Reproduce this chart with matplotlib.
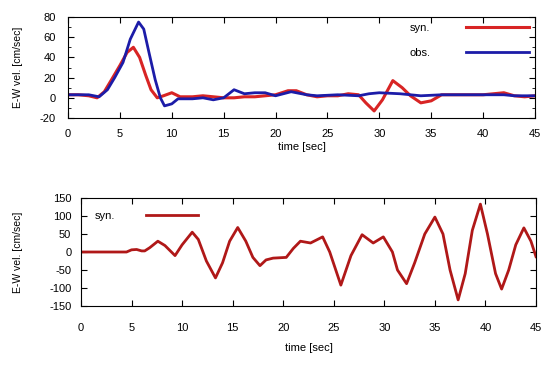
import numpy as np
import matplotlib
matplotlib.use("Agg")
import matplotlib.pyplot as plt
from matplotlib.ticker import MultipleLocator

plt.rcParams['font.family'] = ['Liberation Sans', 'DejaVu Sans']
plt.rcParams['axes.unicode_minus'] = False

# Top panel: syn. vs obs.
t_syn = [0, 1, 2, 2.8, 3.5, 4.2, 5.0, 5.7, 6.3, 6.9, 7.5, 8.0, 8.6, 9.2, 10.0, 10.8, 12, 13, 14, 15, 16, 17, 18,
         19, 20, 21.2, 22.0, 23, 24, 25, 26, 27, 28, 28.7, 29.5, 30.3, 31.3, 32.2, 33.0, 34.0, 35, 36, 38, 40, 42, 43, 44, 45]
v_syn = [3, 3, 2, 0, 6, 18, 32, 45, 50, 40, 22, 8, 0, 2, 5, 1, 1, 2, 1, 0, 0, 1, 1,
         2, 3, 7, 7, 3, 1, 2, 2, 4, 3, -5, -13, -2, 17, 10, 2, -5, -3, 3, 3, 3, 5, 2, 1, 2]
t_obs = [0, 1, 2, 3.0, 3.8, 4.5, 5.3, 6.0, 6.8, 7.3, 7.8, 8.4, 8.9, 9.3, 10.0, 10.6, 12, 13, 14, 15, 16, 17, 18,
         19, 20, 21.5, 23, 24, 26, 28, 29, 30, 32, 34, 36, 38, 40, 42, 43, 45]
v_obs = [3, 3, 3, 1, 8, 20, 35, 58, 75, 68, 45, 18, 0, -8, -6, -1, -1, 0, -2, 0, 8, 4, 5,
         5, 2, 6, 3, 2, 3, 2, 4, 5, 4, 2, 3, 3, 3, 3, 2, 2]

# Bottom panel: syn. only
t_syn2 = [0, 4.5, 5.0, 5.5, 6.0, 6.3, 6.8, 7.6, 8.3, 9.3, 10.0, 11.0, 11.6, 12.4, 13.3, 14.0, 14.7, 15.5, 16.3,
          17.0, 17.7, 18.3, 19.0, 20.3, 21.0, 21.7, 22.7, 23.9, 24.6, 25.7, 26.7, 27.8, 28.9, 29.9, 30.8,
          31.3, 32.2, 33.0, 34.0, 35.0, 35.8, 36.5, 37.3, 38.0, 38.7, 39.5, 40.2, 41.0, 41.6, 42.3, 43.0,
          43.8, 44.5, 45.0]
v_syn2 = [0, 0, 6, 7, 3, 3, 12, 30, 18, -10, 20, 55, 35, -25, -72, -30, 30, 68, 30,
          -15, -38, -22, -17, -15, 10, 30, 25, 42, 0, -92, -10, 48, 25, 42, 0,
          -50, -88, -30, 50, 97, 50, -50, -133, -60, 60, 133, 50, -60, -103, -50, 20,
          67, 30, -13]

red = '#d82424'
blue = '#1c1ca8'
dred = '#b01818'
fs = 8

fig = plt.figure(figsize=(5.47, 3.69), dpi=100)

ax1 = fig.add_axes([68/547, 1-118/369, 467/547, 101/369])
ax1.plot(t_syn, v_syn, '-', color=red, lw=2.2, label='syn.')
ax1.plot(t_obs, v_obs, '-', color=blue, lw=2.0, label='obs.')
ax1.set_xlim(0, 45)
ax1.set_ylim(-20, 80)
ax1.xaxis.set_major_locator(MultipleLocator(5))
ax1.yaxis.set_major_locator(MultipleLocator(20))
ax1.yaxis.set_minor_locator(MultipleLocator(10))
ax1.set_xlabel('time [sec]', fontsize=fs)
ax1.set_ylabel('E-W vel. [cm/sec]', fontsize=fs-0.5)
ax1.xaxis.set_label_coords(0.5, -0.24)
ax1.yaxis.set_label_coords(-0.096, 0.5)
ax1.tick_params(axis='x', pad=8)
ax1.tick_params(axis='y', pad=9)
ax1.legend(loc='upper right', fontsize=fs, frameon=False, markerfirst=False,
           handlelength=5.7, handletextpad=3.2, labelspacing=1.4, borderaxespad=0.1)

ax2 = fig.add_axes([81/547, 1-306/369, 455/547, 108/369])
ax2.plot(t_syn2, v_syn2, '-', color=dred, lw=2.0, label='syn.')
ax2.set_xlim(0, 45)
ax2.set_ylim(-150, 150)
ax2.xaxis.set_major_locator(MultipleLocator(5))
ax2.yaxis.set_major_locator(MultipleLocator(50))
ax2.set_xlabel('time [sec]', fontsize=fs)
ax2.set_ylabel('E-W vel. [cm/sec]', fontsize=fs-0.5)
ax2.xaxis.set_label_coords(0.5, -0.34)
ax2.yaxis.set_label_coords(-0.127, 0.5)
ax2.tick_params(axis='x', pad=12)
ax2.tick_params(axis='y', pad=7)
ax2.legend(loc='upper left', fontsize=fs, frameon=False, markerfirst=False,
           handlelength=4.7, handletextpad=2.8, borderaxespad=0.8)

for ax in (ax1, ax2):
    ax.tick_params(axis='both', which='both', direction='in', top=True, right=True, labelsize=fs)
    ax.tick_params(which='major', length=4)
    ax.tick_params(which='minor', length=2.5)

fig.savefig('out.png', dpi=100)
plt.close(fig)
